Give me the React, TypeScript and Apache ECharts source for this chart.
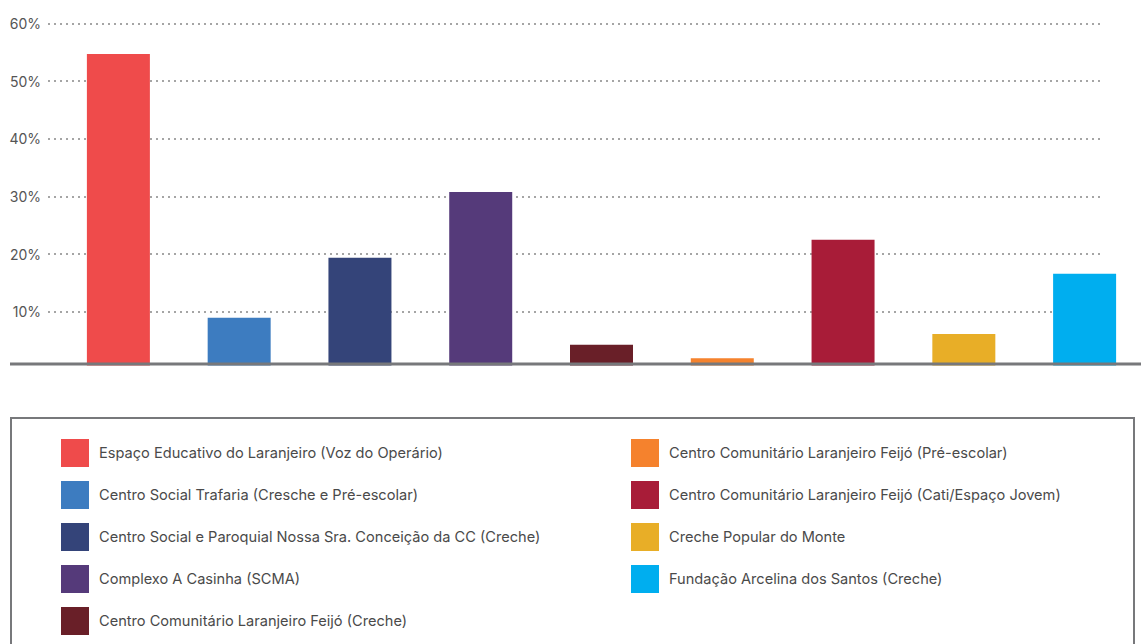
import React, { useEffect, useRef } from "react";
import * as echarts from "echarts";

const categories = [
  "Espaço Educativo do Laranjeiro (Voz do Operário)",
  "Centro Social Trafaria (Cresche e Pré-escolar)",
  "Centro Social e Paroquial Nossa Sra. Conceição da CC (Creche)",
  "Complexo A Casinha (SCMA)",
  "Centro Comunitário Laranjeiro Feijó (Creche)",
  "Centro Comunitário Laranjeiro Feijó (Pré-escolar)",
  "Centro Comunitário Laranjeiro Feijó (Cati/Espaço Jovem)",
  "Creche Popular do Monte",
  "Fundação Arcelina dos Santos (Creche)",
];
const values = [54.7, 9.0, 19.4, 30.8, 4.3, 2.0, 22.5, 6.2, 16.6];
const colors = [
  "#EF4B4B",
  "#3D7CC0",
  "#344479",
  "#553A7A",
  "#691F28",
  "#F5822D",
  "#A81C38",
  "#E8AE27",
  "#00AEEF",
];
const yTicks = [0, 10, 20, 30, 40, 50, 60];

export default function App() {
  const ref = useRef<HTMLDivElement>(null);
  useEffect(() => {
    if (!ref.current) return;
    const chart = echarts.init(ref.current, null, { renderer: "svg" });
    const H = 644;
    const W = 1160;
    const top = 23.3;
    const bottom = H - 369.7;
    const series = categories.map((name, i) => ({
      name,
      type: "bar",
      xAxisIndex: 1,
      yAxisIndex: 1,
      barWidth: 63,
      barGap: "-100%",
      itemStyle: { color: colors[i] },
      data: categories.map((_, j) => (j === i ? values[i] : null)),
    }));
    const legendText = {
      fontSize: 14.6,
      color: "#4a4a4a",
      fontFamily: "Inter",
      padding: [0, 0, 0, 5],
    };
    chart.setOption({
      animation: false,
      grid: [
        { left: 48, width: 1052, top, bottom },
        { left: 58, width: 1087, top, bottom },
      ],
      xAxis: [
        { type: "category", gridIndex: 0, data: categories, show: false },
        { type: "category", gridIndex: 1, data: categories, show: false },
      ],
      yAxis: [
        {
          type: "value",
          gridIndex: 0,
          min: yTicks[0],
          max: yTicks[yTicks.length - 1],
          interval: 10,
          axisLine: { show: false },
          axisTick: { show: false },
          axisLabel: {
            margin: 7,
            fontSize: 14,
            color: "#555",
            fontFamily: "Inter",
            formatter: (v: number) => (v === 0 ? "" : v + "%"),
          },
          splitLine: {
            show: true,
            lineStyle: { color: "#888", type: [2, 4], width: 1.5 },
          },
        },
        {
          type: "value",
          gridIndex: 1,
          min: yTicks[0],
          max: yTicks[yTicks.length - 1],
          show: false,
        },
      ],
      legend: [
        {
          orient: "vertical",
          left: 61,
          top: 439,
          padding: 0,
          itemWidth: 28,
          itemHeight: 28,
          itemGap: 14,
          icon: "rect",
          textStyle: legendText,
          data: categories.slice(0, 5),
        },
        {
          orient: "vertical",
          left: 631,
          top: 439,
          padding: 0,
          itemWidth: 28,
          itemHeight: 28,
          itemGap: 14,
          icon: "rect",
          textStyle: legendText,
          data: categories.slice(5),
        },
      ],
      graphic: [
        {
          type: "rect",
          z: 100,
          shape: { x: 0, y: 365.5, width: W, height: 6 },
          style: { fill: "#fff" },
        },
        {
          type: "line",
          z: 101,
          shape: { x1: 10, y1: 364, x2: W, y2: 364 },
          style: { stroke: "#77787b", lineWidth: 3 },
        },
        {
          type: "rect",
          z: 101,
          shape: { x: 11, y: 418, width: 1123, height: 240 },
          style: { fill: "none", stroke: "#77787b", lineWidth: 2 },
        },
      ],
      series,
    });
    return () => chart.dispose();
  }, []);
  return (
    <div
      style={{
        position: "absolute",
        left: 0,
        top: 0,
        width: 1141,
        height: 644,
        overflow: "hidden",
      }}
    >
      <div ref={ref} style={{ width: 1160, height: 644 }} />
    </div>
  );
}
